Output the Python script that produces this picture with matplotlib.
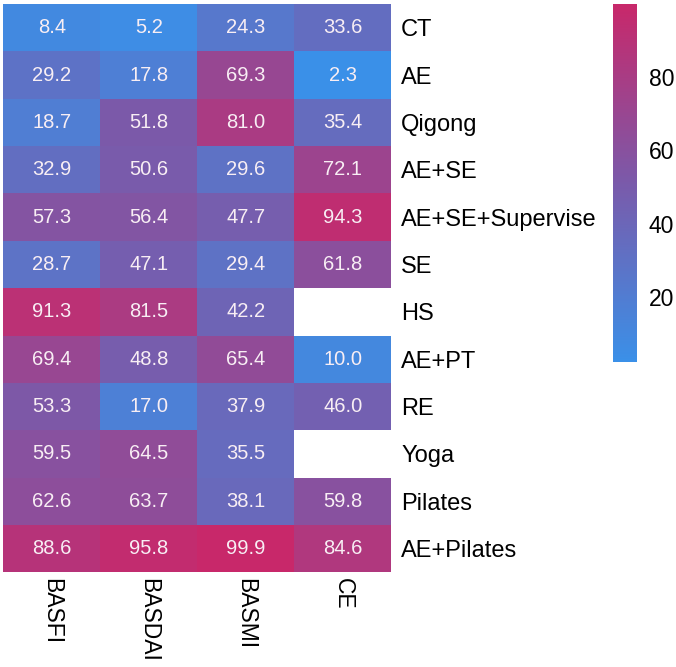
import matplotlib
matplotlib.use("Agg")
import matplotlib.pyplot as plt
import numpy as np
import pandas as pd
import seaborn as sns
from matplotlib.colors import LinearSegmentedColormap

plt.rcParams['font.family'] = ['Liberation Sans', 'DejaVu Sans']

treatments = ["CT", "AE", "Qigong", "AE+SE", "AE+SE+Supervise", "SE", "HS",
              "AE+PT", "RE", "Yoga", "Pilates", "AE+Pilates"]
outcomes = ["BASFI", "BASDAI", "BASMI", "CE"]

basfi = [8.4, 29.2, 18.7, 32.9, 57.3, 28.7, 91.3, 69.4, 53.3, 59.5, 62.6, 88.6]
basdai = [5.2, 17.8, 51.8, 50.6, 56.4, 47.1, 81.5, 48.8, 17.0, 64.5, 63.7, 95.8]
basmi = [24.3, 69.3, 81.0, 29.6, 47.7, 29.4, 42.2, 65.4, 37.9, 35.5, 38.1, 99.9]
ce = [33.6, 2.3, 35.4, 72.1, 94.3, 61.8, np.nan, 10.0, 46.0, np.nan, 59.8, 84.6]

df = pd.DataFrame({"BASFI": basfi, "BASDAI": basdai, "BASMI": basmi, "CE": ce},
                  index=treatments)

cmap = LinearSegmentedColormap.from_list("sucra", ["#3a90e8", "#7a5aaa", "#c8286a"])

fig = plt.figure(figsize=(6.76, 6.67), dpi=100)
ax = fig.add_axes([0.005, 0.142, 0.574, 0.852])
cax = fig.add_axes([0.907, 0.457, 0.036, 0.537])

sns.heatmap(df, ax=ax, cbar_ax=cax, cmap=cmap, annot=True, fmt=".1f",
            annot_kws={"fontsize": 14.5, "color": "#f8eef4"})

ax.yaxis.tick_right()
ax.tick_params(axis="y", length=0, labelsize=17, pad=7)
ax.tick_params(axis="x", length=0, labelsize=16.5, pad=4)
ax.set_yticklabels(treatments, rotation=0)
ax.set_xticklabels(outcomes, rotation=270)
for side in ["top", "right", "bottom", "left"]:
    ax.spines[side].set_visible(False)

cax.tick_params(labelsize=16.5, length=0, pad=8)
cax.set_yticks([20, 40, 60, 80])
cax.spines[:].set_visible(False)

fig.savefig("out.png", dpi=100)
